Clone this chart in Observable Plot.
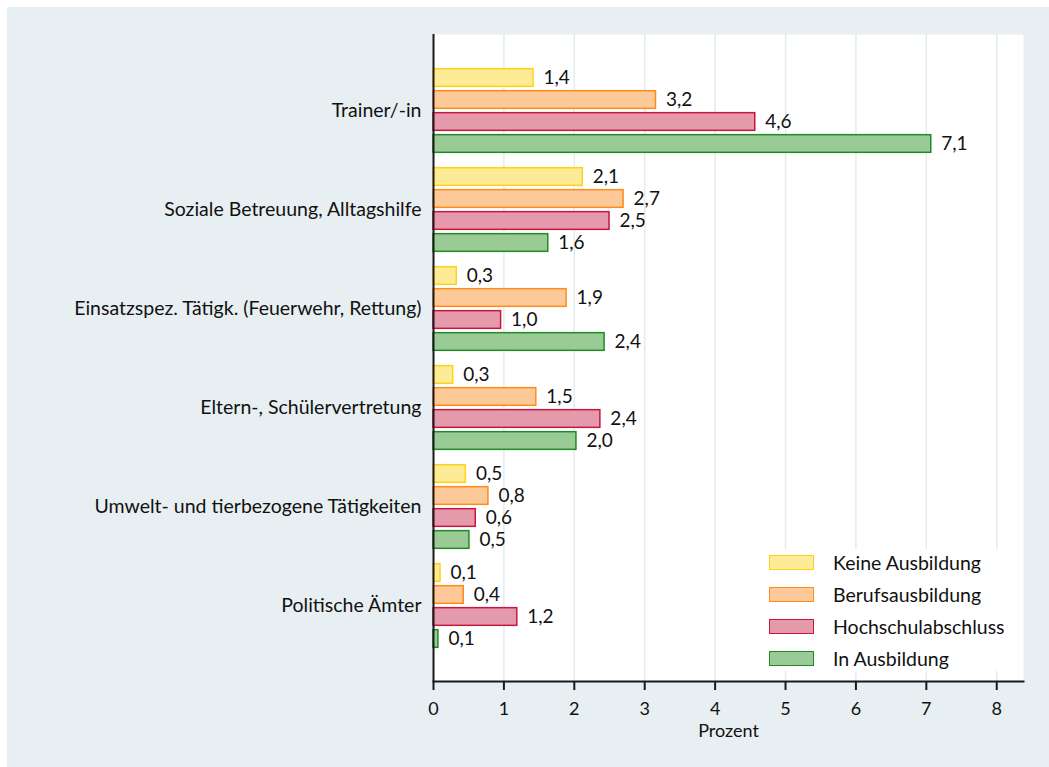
<!DOCTYPE html>
<html>
<head>
<meta charset="utf-8">
<script src="https://cdn.jsdelivr.net/npm/d3@7"></script>
<script src="https://cdn.jsdelivr.net/npm/@observablehq/plot@0.6"></script>
<style>
  html, body { margin: 0; padding: 0; background: #ffffff; }
  #wrap { position: relative; width: 1049px; height: 767px; background: #ffffff; overflow: hidden; font-family: Lato, "Open Sans", sans-serif; }
  #bg { position: absolute; left: 7px; top: 7px; right: 0; bottom: 0; background: #e8eff2; }
  #chart { position: absolute; left: 0; top: 0; }
  #legend { position: absolute; left: 752px; top: 549px; width: 268px; height: 122px; background: #ffffff; }
  .item { position: absolute; left: 17px; height: 16px; width: 300px; }
  .sw { position: absolute; left: 0; top: 0; width: 43px; height: 13px; border-width: 1.5px; border-style: solid; }
  .lb { position: absolute; left: 64px; top: -4px; font-size: 19.5px; line-height: 24px; color: #111; white-space: nowrap; }
</style>
</head>
<body>
<div id="wrap">
  <div id="bg"></div>
  <div id="chart"></div>
  <div id="legend"></div>
</div>
<script>
// ---- data ----
const categories = [
  "Trainer/-in",
  "Soziale Betreuung, Alltagshilfe",
  "Einsatzspez. Tätigk. (Feuerwehr, Rettung)",
  "Eltern-, Schülervertretung",
  "Umwelt- und tierbezogene Tätigkeiten",
  "Politische Ämter"
];
const seriesNames = ["Keine Ausbildung", "Berufsausbildung", "Hochschulabschluss", "In Ausbildung"];
const keineAusbildung   = [1.42, 2.12, 0.33, 0.28, 0.46, 0.10];
const berufsausbildung  = [3.16, 2.70, 1.89, 1.46, 0.78, 0.43];
const hochschulabschluss = [4.57, 2.50, 0.96, 2.37, 0.60, 1.19];
const inAusbildung      = [7.07, 1.63, 2.43, 2.03, 0.51, 0.07];
const xTicks = [0, 1, 2, 3, 4, 5, 6, 7, 8];
const fills   = ["#feeb96", "#fec998", "#e59aac", "#9acb97"];
const strokes = ["#ffd21a", "#ff8c1a", "#c8163f", "#1e8b24"];

const seriesValues = [keineAusbildung, berufsausbildung, hochschulabschluss, inAusbildung];
const rows = [];
seriesValues.forEach((vals, s) => {
  vals.forEach((v, c) => rows.push({category: categories[c], series: seriesNames[s], si: s, value: v}));
});

const fmt = d3.formatLocale({decimal: ",", thousands: ".", grouping: [3], currency: ["", "€"]}).format(".1f");

// ---- layout ----
const W = 1049, H = 767;
const mt = 34, mb = 86, ml = 433, mr = 26;
const padOuter = 0.24;
const bw = (H - mt - mb) / (categories.length + 2 * padOuter);
const barH = 18.5, barStep = 22;

const marks = [
  Plot.frame({fill: "#ffffff", stroke: "none"}),
  Plot.gridX({ticks: xTicks, stroke: "#e3ebef", strokeOpacity: 1, strokeWidth: 1.5})
];
seriesNames.forEach((name, s) => {
  const off = (s - 1.5) * barStep;
  const insetTop = bw / 2 + off - barH / 2;
  const insetBottom = bw - insetTop - barH;
  const data = rows.filter(d => d.si === s);
  marks.push(Plot.barX(data, {
    x: "value", y: "category",
    fill: fills[s], stroke: strokes[s], strokeWidth: 1.5,
    insetTop, insetBottom
  }));
  marks.push(Plot.text(data, {
    x: "value", y: "category", text: d => fmt(d.value),
    dx: 10, dy: off, textAnchor: "start", fontSize: 19, fill: "#111"
  }));
});
marks.push(
  Plot.ruleX([0], {stroke: "#1a1a1a", strokeWidth: 2}),
  Plot.frame({anchor: "bottom", stroke: "#1a1a1a", strokeWidth: 2}),
  Plot.axisX({ticks: xTicks, tickSize: 9, tickPadding: 12, fontSize: 18, stroke: "#1a1a1a", strokeWidth: 2, fill: "#111", label: null, tickFormat: d => String(d)}),
  Plot.axisY({tickSize: 0, tickPadding: 12, fontSize: 19.5, fill: "#111", label: null}),
  Plot.text(["Prozent"], {frameAnchor: "bottom", lineAnchor: "middle", dy: 50, fontSize: 18, fill: "#111"})
);

const chart = Plot.plot({
  width: W, height: H,
  marginTop: mt, marginBottom: mb, marginLeft: ml, marginRight: mr,
  style: {background: "transparent", fontFamily: "Lato, 'Open Sans', sans-serif", fontSize: "19px", overflow: "visible"},
  x: {domain: [0, 8.38], label: null},
  y: {domain: categories, paddingInner: 0, paddingOuter: padOuter, label: null},
  marks
});
document.getElementById("chart").appendChild(chart);

// ---- legend ----
const legend = document.getElementById("legend");
seriesNames.forEach((name, s) => {
  const item = document.createElement("div");
  item.className = "item";
  item.style.top = (6 + 32 * s) + "px";
  const sw = document.createElement("div");
  sw.className = "sw";
  sw.style.background = fills[s];
  sw.style.borderColor = strokes[s];
  const lb = document.createElement("div");
  lb.className = "lb";
  lb.textContent = name;
  item.appendChild(sw);
  item.appendChild(lb);
  legend.appendChild(item);
});
</script>
</body>
</html>
